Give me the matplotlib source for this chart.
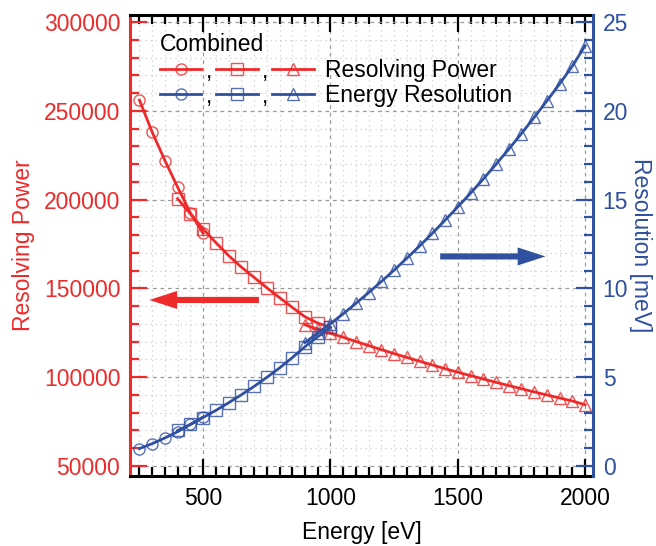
import matplotlib
matplotlib.use("Agg")
import matplotlib.pyplot as plt
from matplotlib.legend_handler import HandlerBase
from matplotlib.lines import Line2D
from matplotlib.text import Text
from matplotlib.ticker import MultipleLocator

plt.rcParams['font.family'] = ['Liberation Sans', 'DejaVu Sans']

# Photon energy [eV] for each grating segment
energy_circ = [250, 300, 350, 400, 450, 500]
energy_sq = [400, 450, 500, 550, 600, 650, 700, 750, 800, 850, 900, 950, 1000]
energy_tri = [900, 950, 1000, 1050, 1100, 1150, 1200, 1250, 1300, 1350, 1400,
              1450, 1500, 1550, 1600, 1650, 1700, 1750, 1800, 1850, 1900, 1950, 2000]

# Resolving power E/dE
rp_circ = [256000, 238000, 222000, 207000, 192500, 181000]
rp_sq = [200500, 192000, 183500, 175800, 168500, 162000, 156200, 150400,
         144800, 139300, 134000, 130500, 128000]
rp_tri = [129500, 127000, 124700, 122500, 120100, 117800, 115500, 113300,
          111100, 109000, 106900, 104800, 102800, 100900, 99000, 97100,
          95300, 93500, 91700, 90000, 88300, 86600, 84500]

# Energy resolution [meV]
res_circ = [0.98, 1.26, 1.58, 1.93, 2.34, 2.76]
res_sq = [2.00, 2.34, 2.73, 3.13, 3.56, 4.01, 4.48, 4.99, 5.52, 6.10, 6.72,
          7.28, 7.81]
res_tri = [6.95, 7.48, 8.02, 8.57, 9.16, 9.76, 10.39, 11.03, 11.70, 12.39,
           13.10, 13.84, 14.59, 15.36, 16.16, 16.99, 17.84, 18.72, 19.63,
           20.56, 21.52, 22.52, 23.67]

RED = '#EE2A2A'
BLUE = '#3050A0'
RED_MK = (0.93, 0.16, 0.16, 0.8)
BLUE_MK = (0.19, 0.31, 0.63, 0.8)
FS = 16.5

fig = plt.figure(figsize=(6.56, 5.46), dpi=100)
ax = fig.add_axes([0.1982, 0.1282, 0.7058, 0.8443])
ax2 = ax.twinx()

xlim = (213, 2031)
ylim_rp = (44370, 303940)
ylim_res = ((ylim_rp[0] - 50000) / 10000, (ylim_rp[1] - 50000) / 10000)

common = dict(lw=2.0, ms=8, mfc='none', mew=1.0)
r1, = ax.plot(energy_circ, rp_circ, marker='o', color=RED, mec=RED_MK, **common)
r2, = ax.plot(energy_sq, rp_sq, marker='s', color=RED, mec=RED_MK, **common)
r3, = ax.plot(energy_tri, rp_tri, marker='^', color=RED, mec=RED_MK, **common)
b1, = ax2.plot(energy_circ, res_circ, marker='o', color=BLUE, mec=BLUE_MK, **common)
b2, = ax2.plot(energy_sq, res_sq, marker='s', color=BLUE, mec=BLUE_MK, **common)
b3, = ax2.plot(energy_tri, res_tri, marker='^', color=BLUE, mec=BLUE_MK, **common)

ax.set_xlim(*xlim)
ax.set_ylim(*ylim_rp)
ax2.set_ylim(*ylim_res)

# ticks
ax.xaxis.set_major_locator(MultipleLocator(500))
ax.xaxis.set_minor_locator(MultipleLocator(50))
ax.yaxis.set_major_locator(MultipleLocator(50000))
ax.yaxis.set_minor_locator(MultipleLocator(10000))
ax2.yaxis.set_major_locator(MultipleLocator(5))
ax2.yaxis.set_minor_locator(MultipleLocator(1))

ax.tick_params(axis='x', which='both', direction='in', top=True, bottom=True,
               colors='black', labelsize=FS, width=1.6, pad=8)
ax.tick_params(axis='x', which='major', length=12)
ax.tick_params(axis='x', which='minor', length=6.5)
ax.tick_params(axis='y', which='both', direction='in', left=True, right=False,
               colors=RED, labelsize=FS, width=1.6, pad=7)
ax.tick_params(axis='y', which='major', length=12)
ax.tick_params(axis='y', which='minor', length=6.5)
ax2.tick_params(axis='y', which='both', direction='in', colors=BLUE,
                labelsize=FS, width=1.6, pad=7)
ax2.tick_params(axis='y', which='major', length=12)
ax2.tick_params(axis='y', which='minor', length=6.5)

# spines
for s in ax.spines.values():
    s.set_linewidth(2.2)
ax.spines['left'].set_color(RED)
ax.spines['right'].set_visible(False)
for name in ('left', 'top', 'bottom'):
    ax2.spines[name].set_visible(False)
ax2.spines['right'].set_color(BLUE)
ax2.spines['right'].set_linewidth(2.2)

# grid
ax.grid(True, which='major', color='#9a9a9a', lw=0.9, ls=(0, (3, 3)))
ax.grid(True, which='minor', color='#cccccc', lw=0.9, ls=(0, (1, 3)))
ax.set_axisbelow(True)

ax.set_xlabel('Energy [eV]', fontsize=FS, labelpad=8)
ax.set_ylabel('Resolving Power', fontsize=FS, color=RED, labelpad=6)
ax2.set_ylabel('Resolution [meV]', fontsize=FS, color=BLUE, rotation=-90,
               labelpad=17)

# direction arrows
ax.annotate('', xy=(278, 143500), xytext=(730, 143500),
            arrowprops=dict(arrowstyle='simple,head_length=1.0,head_width=0.65,tail_width=0.22',
                            mutation_scale=20, color=RED, lw=0))
ax2.annotate('', xy=(1855, 11.8), xytext=(1420, 11.8),
             arrowprops=dict(arrowstyle='simple,head_length=1.0,head_width=0.65,tail_width=0.22',
                             mutation_scale=20, color=BLUE, lw=0))


class TripleHandler(HandlerBase):
    """Draws a group of line+marker samples separated by commas."""

    def create_artists(self, legend, orig_handle, xdescent, ydescent,
                       width, height, fontsize, trans):
        n = len(orig_handle)
        gap = width * 0.095
        seg = (width - gap * (n - 1)) / n
        y = height / 2 - ydescent
        arts = []
        for i, h in enumerate(orig_handle):
            x0 = -xdescent + i * (seg + gap)
            ln = Line2D([x0, x0 + seg], [y, y], color=h.get_color(),
                        lw=h.get_linewidth(), transform=trans)
            mk = Line2D([x0 + seg / 2], [y], marker=h.get_marker(),
                        ms=h.get_markersize(), mfc='none',
                        mec=h.get_markeredgecolor(), mew=h.get_markeredgewidth(),
                        ls='none', transform=trans)
            arts += [ln, mk]
            if i < n - 1:
                arts.append(Text(x0 + seg + gap / 2, y - 2, ',', ha='center',
                                 va='center', fontsize=fontsize, color='black',
                                 transform=trans))
        return arts


leg = ax2.legend(handles=[(r1, r2, r3), (b1, b2, b3)],
                 labels=['Resolving Power', 'Energy Resolution'],
                 handler_map={tuple: TripleHandler()},
                 title='Combined', title_fontsize=FS, fontsize=FS,
                 loc='upper left', bbox_to_anchor=(0.045, 0.98),
                 frameon=False, handlelength=6.7, handletextpad=0.5,
                 labelspacing=0.1, borderaxespad=0, alignment='left')

fig.savefig('out.png', dpi=100)
